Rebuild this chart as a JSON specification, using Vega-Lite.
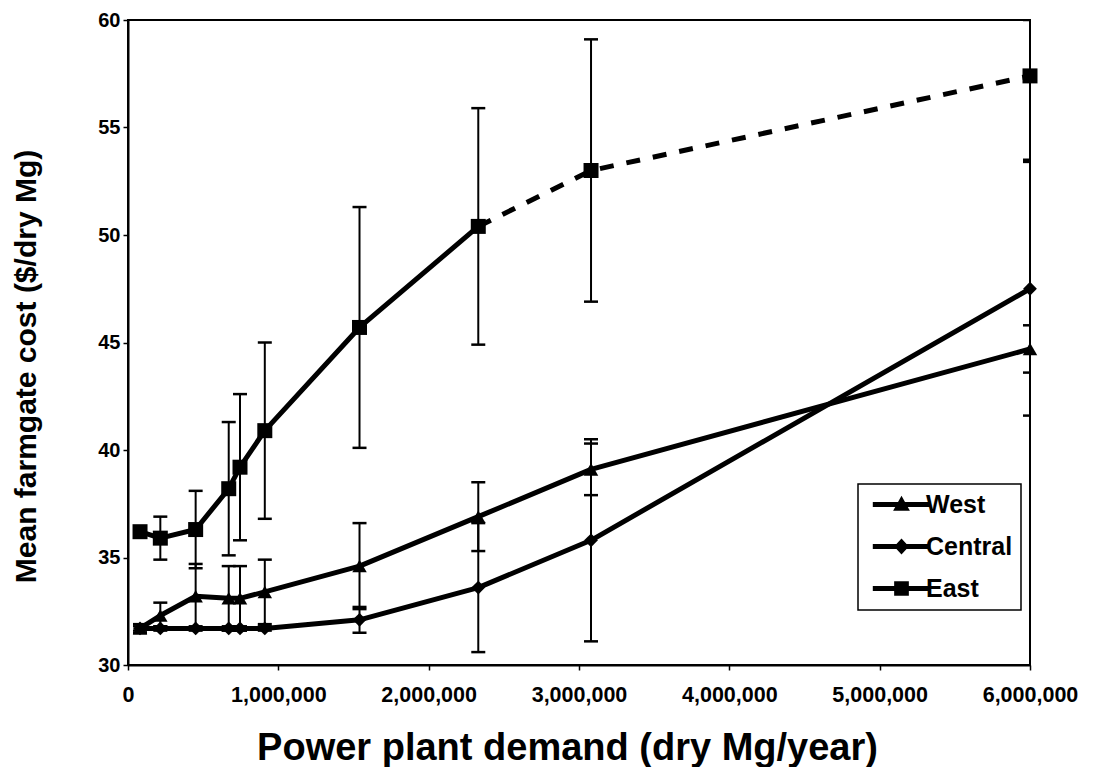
{
  "$schema": "https://vega.github.io/schema/vega-lite/v6.json",
  "width": 902,
  "height": 645,
  "autosize": {"type": "none"},
  "padding": {"left": 128, "top": 20, "right": 81, "bottom": 102},
  "background": "white",
  "view": {"stroke": "black", "strokeWidth": 2, "fill": "white"},
  "config": {
    "view": {"stroke": "black", "strokeWidth": 2},
    "font": "Liberation Sans",
    "axis": {
      "grid": false,
      "domainColor": "black",
      "domainWidth": 2,
      "tickColor": "black",
      "tickWidth": 1.5,
      "tickSize": 5,
      "labelFont": "Liberation Sans",
      "labelFontWeight": "bold",
      "labelFontSize": 20,
      "labelColor": "black",
      "titleFont": "Liberation Sans",
      "titleFontWeight": "bold",
      "titleColor": "black"
    },
    "legend": {"strokeWidth": 1.5}
  },
  "datasets": {
    "costs": [
      {"region": "East", "demand": 80000, "cost": 36.2, "lo": 36.2, "hi": 36.2},
      {"region": "East", "demand": 215000, "cost": 35.9, "lo": 34.9, "hi": 36.9},
      {"region": "East", "demand": 450000, "cost": 36.3, "lo": 34.5, "hi": 38.1},
      {"region": "East", "demand": 670000, "cost": 38.2, "lo": 35.1, "hi": 41.3},
      {"region": "East", "demand": 745000, "cost": 39.2, "lo": 35.8, "hi": 42.6},
      {"region": "East", "demand": 910000, "cost": 40.9, "lo": 36.8, "hi": 45.0},
      {"region": "East", "demand": 1540000, "cost": 45.7, "lo": 40.1, "hi": 51.3},
      {"region": "East", "demand": 2330000, "cost": 50.4, "lo": 44.9, "hi": 55.9},
      {"region": "East", "demand": 3080000, "cost": 53.0, "lo": 46.9, "hi": 59.1},
      {"region": "East", "demand": 6000000, "cost": 57.4, "lo": 53.5, "hi": 60.0},
      {"region": "West", "demand": 80000, "cost": 31.7, "lo": 31.5, "hi": 31.9},
      {"region": "West", "demand": 215000, "cost": 32.3, "lo": 31.8, "hi": 32.9},
      {"region": "West", "demand": 450000, "cost": 33.2, "lo": 31.7, "hi": 34.7},
      {"region": "West", "demand": 670000, "cost": 33.1, "lo": 31.6, "hi": 34.6},
      {"region": "West", "demand": 745000, "cost": 33.1, "lo": 31.6, "hi": 34.6},
      {"region": "West", "demand": 910000, "cost": 33.4, "lo": 31.9, "hi": 34.9},
      {"region": "West", "demand": 1540000, "cost": 34.6, "lo": 32.6, "hi": 36.6},
      {"region": "West", "demand": 2330000, "cost": 36.9, "lo": 35.3, "hi": 38.5},
      {"region": "West", "demand": 3080000, "cost": 39.1, "lo": 37.9, "hi": 40.3},
      {"region": "West", "demand": 6000000, "cost": 44.7, "lo": 43.6, "hi": 45.8},
      {"region": "Central", "demand": 80000, "cost": 31.7, "lo": 31.6, "hi": 31.8},
      {"region": "Central", "demand": 215000, "cost": 31.7, "lo": 31.6, "hi": 31.8},
      {"region": "Central", "demand": 450000, "cost": 31.7, "lo": 31.6, "hi": 31.8},
      {"region": "Central", "demand": 670000, "cost": 31.7, "lo": 31.6, "hi": 31.8},
      {"region": "Central", "demand": 745000, "cost": 31.7, "lo": 31.6, "hi": 31.8},
      {"region": "Central", "demand": 910000, "cost": 31.7, "lo": 31.6, "hi": 31.8},
      {"region": "Central", "demand": 1540000, "cost": 32.1, "lo": 31.5, "hi": 32.7},
      {"region": "Central", "demand": 2330000, "cost": 33.6, "lo": 30.6, "hi": 36.6},
      {"region": "Central", "demand": 3080000, "cost": 35.8, "lo": 31.1, "hi": 40.5},
      {"region": "Central", "demand": 6000000, "cost": 47.5, "lo": 41.6, "hi": 53.4}
    ]
  },
  "data": {"name": "costs"},
  "layer": [
    {
      "mark": {"type": "rule", "strokeWidth": 2, "color": "black"},
      "encoding": {
        "x": {"field": "demand", "type": "quantitative", "scale": {"domain": [0, 6000000], "nice": false}, "title": "Power plant demand (dry Mg/year)"},
        "y": {"field": "lo", "type": "quantitative", "scale": {"domain": [30, 60], "nice": false}, "title": "Mean farmgate cost ($/dry Mg)"},
        "y2": {"field": "hi"}
      }
    },
    {
      "mark": {"type": "tick", "orient": "horizontal", "size": 14, "thickness": 2.5, "color": "black", "clip": true, "opacity": 1},
      "encoding": {
        "x": {"field": "demand", "type": "quantitative", "scale": {"domain": [0, 6000000], "nice": false}, "title": "Power plant demand (dry Mg/year)"},
        "y": {"field": "lo", "type": "quantitative", "scale": {"domain": [30, 60], "nice": false}, "title": "Mean farmgate cost ($/dry Mg)"}
      }
    },
    {
      "mark": {"type": "tick", "orient": "horizontal", "size": 14, "thickness": 2.5, "color": "black", "clip": true, "opacity": 1},
      "encoding": {
        "x": {"field": "demand", "type": "quantitative", "scale": {"domain": [0, 6000000], "nice": false}, "title": "Power plant demand (dry Mg/year)"},
        "y": {"field": "hi", "type": "quantitative", "scale": {"domain": [30, 60], "nice": false}, "title": "Mean farmgate cost ($/dry Mg)"}
      }
    },
    {
      "transform": [{"filter": "datum.region != 'East' || datum.demand <= 2330000"}],
      "mark": {"type": "line", "strokeWidth": 5, "color": "black", "strokeJoin": "round", "strokeCap": "round"},
      "encoding": {
        "x": {"field": "demand", "type": "quantitative", "scale": {"domain": [0, 6000000], "nice": false}, "title": "Power plant demand (dry Mg/year)"},
        "y": {"field": "cost", "type": "quantitative", "scale": {"domain": [30, 60], "nice": false}, "title": "Mean farmgate cost ($/dry Mg)"},
        "detail": {"field": "region"}
      }
    },
    {
      "transform": [{"filter": "datum.region == 'East' && datum.demand >= 2330000"}],
      "mark": {"type": "line", "strokeWidth": 5, "color": "black", "strokeDash": [14, 13]},
      "encoding": {
        "x": {"field": "demand", "type": "quantitative", "scale": {"domain": [0, 6000000], "nice": false}, "title": "Power plant demand (dry Mg/year)"},
        "y": {"field": "cost", "type": "quantitative", "scale": {"domain": [30, 60], "nice": false}, "title": "Mean farmgate cost ($/dry Mg)"}
      }
    },
    {
      "transform": [{"filter": "datum.region == 'East'"}],
      "mark": {"type": "point", "shape": "square", "filled": true, "color": "black", "opacity": 1, "size": 225},
      "encoding": {
        "x": {"field": "demand", "type": "quantitative", "scale": {"domain": [0, 6000000], "nice": false}, "title": "Power plant demand (dry Mg/year)"},
        "y": {"field": "cost", "type": "quantitative", "scale": {"domain": [30, 60], "nice": false}, "title": "Mean farmgate cost ($/dry Mg)"}
      }
    },
    {
      "transform": [{"filter": "datum.region == 'Central'"}],
      "mark": {"type": "point", "shape": "diamond", "filled": true, "color": "black", "opacity": 1, "size": 190},
      "encoding": {
        "x": {"field": "demand", "type": "quantitative", "scale": {"domain": [0, 6000000], "nice": false}, "title": "Power plant demand (dry Mg/year)"},
        "y": {"field": "cost", "type": "quantitative", "scale": {"domain": [30, 60], "nice": false}, "title": "Mean farmgate cost ($/dry Mg)"}
      }
    },
    {
      "transform": [{"filter": "datum.region == 'West'"}],
      "mark": {"type": "point", "shape": "triangle-up", "filled": true, "color": "black", "opacity": 1, "size": 210},
      "encoding": {
        "x": {
          "field": "demand", "type": "quantitative",
          "scale": {"domain": [0, 6000000], "nice": false},
          "title": "Power plant demand (dry Mg/year)",
          "axis": {
            "values": [0, 1000000, 2000000, 3000000, 4000000, 5000000, 6000000],
            "format": ",d",
            "labelFlush": false,
            "labelFontSize": 21.5,
            "labelPadding": 14,
            "titleFontSize": 38,
            "titlePadding": 24,
            "titleX": 439
          }
        },
        "y": {
          "field": "cost", "type": "quantitative",
          "scale": {"domain": [30, 60], "nice": false},
          "title": "Mean farmgate cost ($/dry Mg)",
          "axis": {
            "values": [30, 35, 40, 45, 50, 55, 60],
            "labelPadding": 3,
            "titleFontSize": 30,
            "titlePadding": 56,
            "titleY": 346
          }
        }
      }
    },
    {
      "transform": [{"filter": "datum.cost < 0"}],
      "mark": {"type": "point", "filled": true, "color": "black", "opacity": 1},
      "encoding": {
        "x": {"field": "demand", "type": "quantitative", "scale": {"domain": [0, 6000000], "nice": false}, "title": "Power plant demand (dry Mg/year)"},
        "y": {"field": "cost", "type": "quantitative", "scale": {"domain": [30, 60], "nice": false}, "title": "Mean farmgate cost ($/dry Mg)"},
        "shape": {
          "field": "region", "type": "nominal",
          "scale": {
            "domain": ["West", "Central", "East"],
            "range": [
              "M-4.1,-0.35H4.1V0.35H-4.1Z M0,-1.25L1.2,0.9H-1.2Z",
              "M-4.1,-0.35H4.1V0.35H-4.1Z M0,-1.15L1.05,0L0,1.15L-1.05,0Z",
              "M-4.1,-0.35H4.1V0.35H-4.1Z M-1.05,-1.05H1.05V1.05H-1.05Z"
            ]
          },
          "legend": {
            "title": null,
            "orient": "none",
            "legendX": 730,
            "legendY": 464,
            "padding": 8,
            "strokeColor": "black",
            "fillColor": "white",
            "labelFont": "Liberation Sans",
            "labelFontWeight": "bold",
            "labelFontSize": 25,
            "labelColor": "black",
            "symbolOffset": 23,
            "labelOffset": 12,
            "rowPadding": 16,
            "symbolSize": 196,
            "symbolFillColor": "black",
            "symbolStrokeColor": "black",
            "symbolStrokeWidth": 0,
            "symbolOpacity": 1
          }
        }
      }
    }
  ]
}
